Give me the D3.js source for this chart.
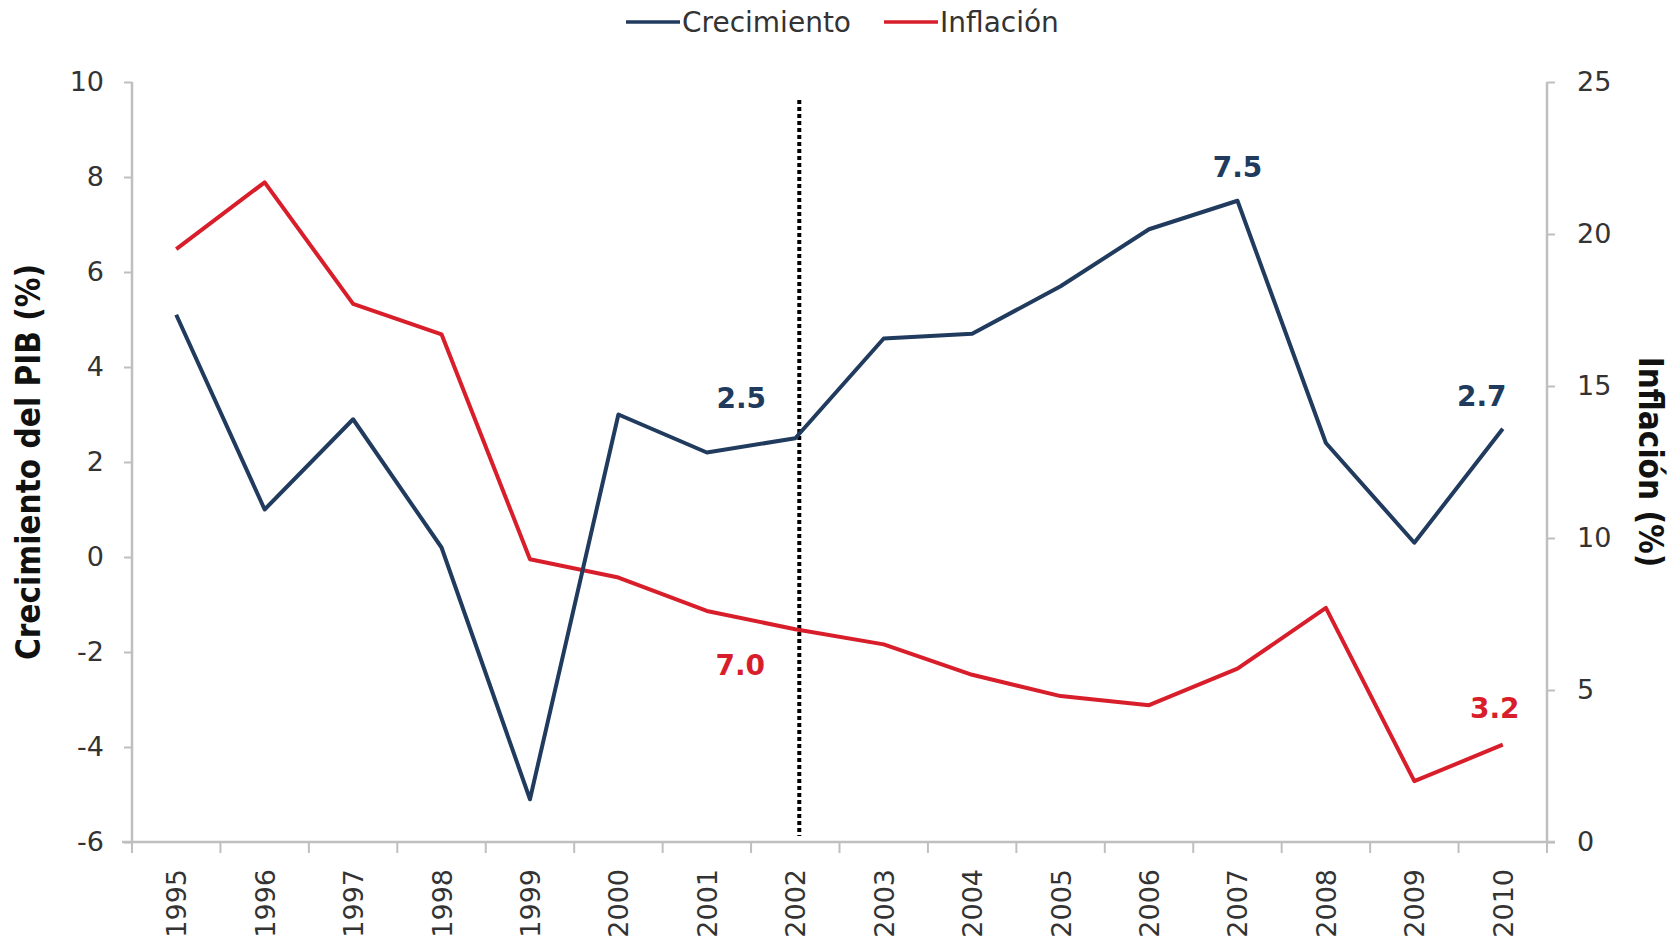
<!DOCTYPE html>
<html>
<head>
<meta charset="utf-8">
<script src="https://cdn.jsdelivr.net/npm/d3@7"></script>
<style>
  body { margin: 0; background: #fff; }
  text { font-family: "DejaVu Sans", Verdana, sans-serif; }
</style>
</head>
<body>
<div id="chart"></div>
<script>
// Data.
var years = ["1995","1996","1997","1998","1999","2000","2001","2002","2003","2004","2005","2006","2007","2008","2009","2010"];
var crecimiento = [5.1, 1.0, 2.9, 0.2, -5.1, 3.0, 2.2, 2.5, 4.6, 4.7, 5.7, 6.9, 7.5, 2.4, 0.3, 2.7];
var inflacion = [19.5, 21.7, 17.7, 16.7, 9.3, 8.7, 7.6, 7.0, 6.5, 5.5, 4.8, 4.5, 5.7, 7.7, 2.0, 3.2];
var leftTicks = [-6, -4, -2, 0, 2, 4, 6, 8, 10];
var rightTicks = [0, 5, 10, 15, 20, 25];
var markYear = "2002";

// Labeled points: [series, year, dx, dy]
var labels = [
  ["c", "2002", -54, -30],
  ["c", "2007", 0, -24],
  ["c", "2010", -21, -23],
  ["i", "2002", -55, 46],
  ["i", "2010", -8, -27]
];

var W = 1679, H = 944;
// note: "top" is taken by window.top, so use own names
var plotLeft = 132, plotRight = 1547, plotTop = 82, plotBottom = 842;
var navy = "#203B5E", red = "#D81E2A", axisCol = "#BFBFBF", txt = "#333333";

var svg = d3.select("#chart").append("svg")
  .attr("width", W).attr("height", H);

var x = d3.scaleBand().domain(years).range([plotLeft, plotRight]);
var yL = d3.scaleLinear().domain([-6, 10]).range([plotBottom, plotTop]);
var yR = d3.scaleLinear().domain([0, 25]).range([plotBottom, plotTop]);
var cx = function(yr) { return x(yr) + x.bandwidth() / 2; };

// left axis (plain hyphen for negatives, like the original)
var gL = svg.append("g").attr("transform", "translate(" + plotLeft + ",0)")
  .call(d3.axisLeft(yL).tickValues(leftTicks).tickFormat(function(d) { return String(d); })
    .tickSize(8).tickPadding(20));
// right axis
var gR = svg.append("g").attr("transform", "translate(" + plotRight + ",0)")
  .call(d3.axisRight(yR).tickValues(rightTicks).tickSize(8).tickPadding(22));
// bottom axis: ticks at band boundaries
var gX = svg.append("g").attr("transform", "translate(0," + plotBottom + ")")
  .call(d3.axisBottom(x).tickSize(0).tickPadding(0));
gX.selectAll(".tick text").remove();
gX.select(".domain").attr("d", "M" + (plotLeft - 10) + ",0H" + (plotRight + 8));

gX.selectAll(".bound").data(years.concat(["end"])).enter().append("line")
  .attr("x1", function(d, i) { return plotLeft + i * x.bandwidth(); })
  .attr("x2", function(d, i) { return plotLeft + i * x.bandwidth(); })
  .attr("y1", 0).attr("y2", 11)
  .attr("stroke", axisCol).attr("stroke-width", 2);

gX.selectAll(".yr").data(years).enter().append("text")
  .attr("transform", function(d) { return "translate(" + (cx(d) + 10) + ",27) rotate(-90)"; })
  .attr("text-anchor", "end")
  .attr("fill", txt)
  .style("font-size", "27px")
  .text(function(d) { return d; });

[gL, gR].forEach(function(g) {
  g.select(".domain").attr("stroke", axisCol).attr("stroke-width", 2.5);
  g.selectAll(".tick line").attr("stroke", axisCol).attr("stroke-width", 2);
  g.selectAll(".tick text").attr("fill", txt).style("font-size", "27px")
    .style("font-family", "'DejaVu Sans', Verdana, sans-serif");
});
gL.select(".domain").attr("d", "M0," + plotTop + "V" + plotBottom);
gR.select(".domain").attr("d", "M0," + plotTop + "V" + plotBottom);
gX.select(".domain").attr("stroke", axisCol).attr("stroke-width", 2.5);

// dotted marker line
svg.append("line")
  .attr("x1", cx(markYear) + 4).attr("x2", cx(markYear) + 4)
  .attr("y1", 100).attr("y2", plotBottom - 6)
  .attr("stroke", "#000").attr("stroke-width", 4)
  .attr("stroke-dasharray", "4,3");

// lines
var lineC = d3.line().x(function(d, i) { return cx(years[i]); }).y(function(d) { return yL(d); });
var lineI = d3.line().x(function(d, i) { return cx(years[i]); }).y(function(d) { return yR(d); });

svg.append("path").datum(inflacion).attr("d", lineI)
  .attr("fill", "none").attr("stroke", red).attr("stroke-width", 4).attr("stroke-linejoin", "round");
svg.append("path").datum(crecimiento).attr("d", lineC)
  .attr("fill", "none").attr("stroke", navy).attr("stroke-width", 4).attr("stroke-linejoin", "round");

// data labels
svg.selectAll(".lbl").data(labels).enter().append("text")
  .attr("x", function(d) { return cx(d[1]) + d[2]; })
  .attr("y", function(d) {
    var i = years.indexOf(d[1]);
    return (d[0] === "c" ? yL(crecimiento[i]) : yR(inflacion[i])) + d[3];
  })
  .attr("text-anchor", "middle")
  .attr("fill", function(d) { return d[0] === "c" ? navy : red; })
  .style("font-size", "28px").style("font-weight", "bold")
  .text(function(d) {
    var i = years.indexOf(d[1]);
    return (d[0] === "c" ? crecimiento[i] : inflacion[i]).toFixed(1);
  });

// axis titles
svg.append("text")
  .attr("transform", "translate(40,462) rotate(-90)")
  .attr("text-anchor", "middle")
  .style("font-family", "'Liberation Sans Narrow', 'DejaVu Sans Condensed', sans-serif")
  .style("font-size", "33px").style("font-weight", "bold").attr("fill", "#111")
  .text("Crecimiento del PIB (%)");
svg.append("text")
  .attr("transform", "translate(1639,462) rotate(90)")
  .attr("text-anchor", "middle")
  .style("font-family", "'Liberation Sans Narrow', 'DejaVu Sans Condensed', sans-serif")
  .style("font-size", "33px").style("font-weight", "bold").attr("fill", "#111")
  .text("Inflación (%)");

// legend
var legend = [["Crecimiento", navy, 626], ["Inflación", red, 884]];
var lg = svg.append("g");
legend.forEach(function(l) {
  lg.append("line").attr("x1", l[2]).attr("x2", l[2] + 54).attr("y1", 22).attr("y2", 22)
    .attr("stroke", l[1]).attr("stroke-width", 3.5);
  lg.append("text").attr("x", l[2] + 56).attr("y", 32)
    .attr("fill", txt).style("font-size", "28px").text(l[0]);
});
</script>
</body>
</html>
